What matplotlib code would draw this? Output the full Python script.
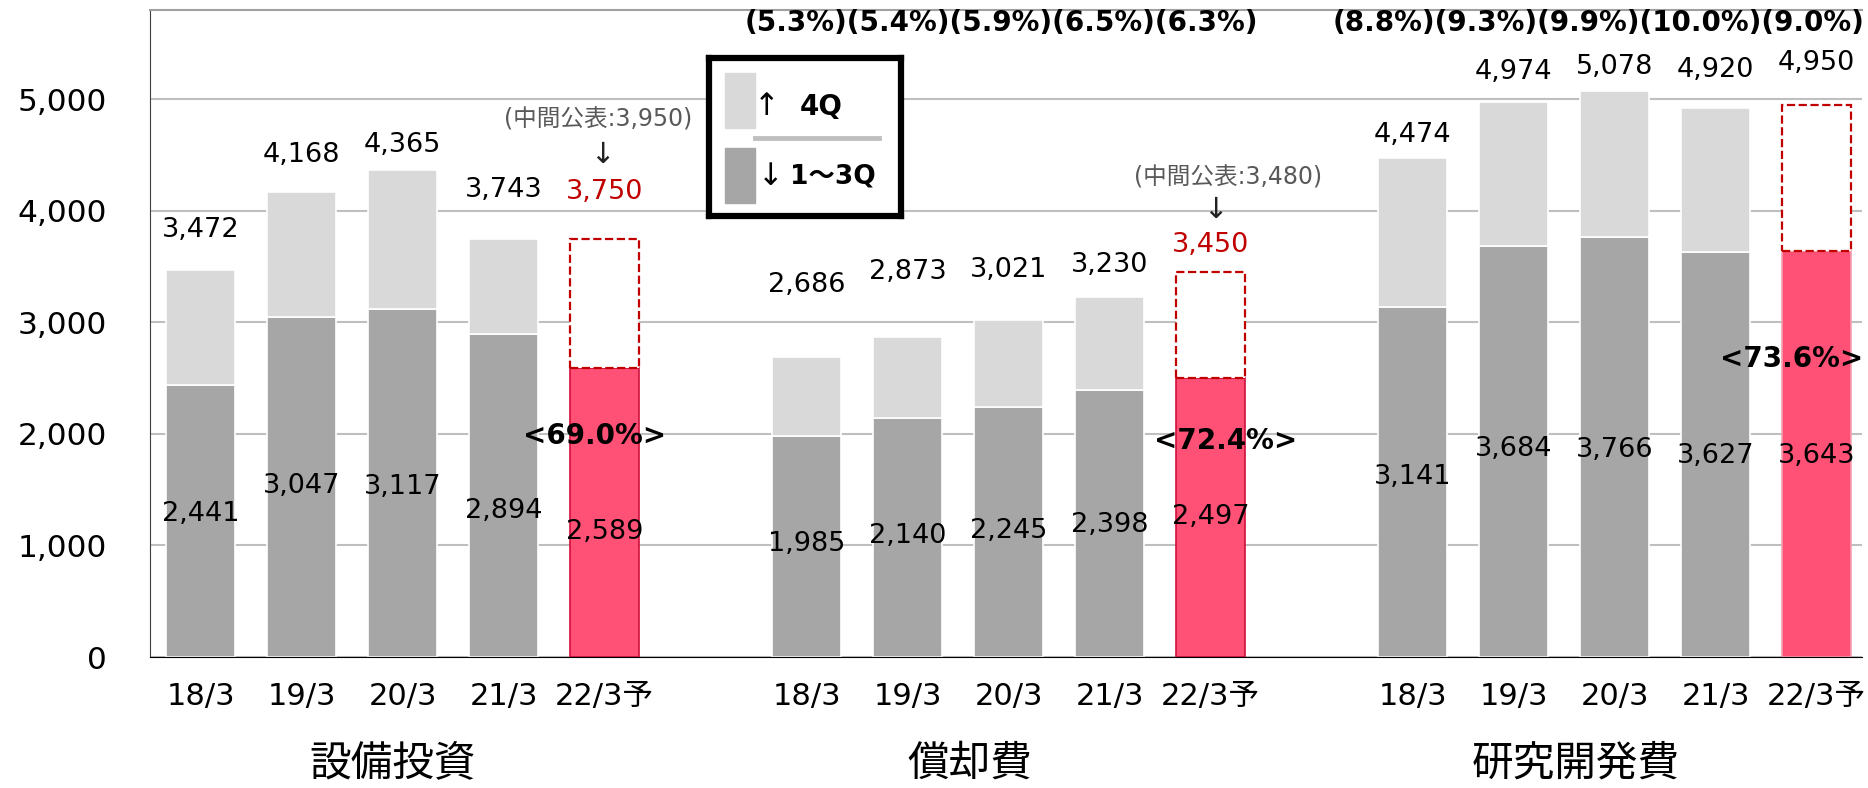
import numpy as np
import matplotlib.pyplot as plt
from matplotlib.patches import Rectangle
from matplotlib.lines import Line2D

plt.rcParams['font.family'] = ['DejaVu Sans', 'Noto Sans CJK JP']

# データ
groups = ['設備投資', '償却費', '研究開発費']
years = ['18/3', '19/3', '20/3', '21/3', '22/3予']
capex_total = [3472, 4168, 4365, 3743, 3750]
capex_q13 = [2441, 3047, 3117, 2894, 2589]
dep_total = [2686, 2873, 3021, 3230, 3450]
dep_q13 = [1985, 2140, 2245, 2398, 2497]
rd_total = [4474, 4974, 5078, 4920, 4950]
rd_q13 = [3141, 3684, 3766, 3627, 3643]
dep_ratio = [5.3, 5.4, 5.9, 6.5, 6.3]
rd_ratio = [8.8, 9.3, 9.9, 10.0, 9.0]
progress = ['<69.0%>', '<72.4%>', '<73.6%>']
interim = ['(中間公表:3,950)', '(中間公表:3,480)', None]

totals = [capex_total, dep_total, rd_total]
q13s = [capex_q13, dep_q13, rd_q13]
ratios = [None, dep_ratio, rd_ratio]

# ラベル位置の調整 (値からのずれ)
tot_off = [[360, 335, 228, 447, 422],
           [653, 574, 444, 288, 247],
           [208, 272, 213, 344, 377]]
in_off = [[60, 7, -37, -140, -176],
          [20, 13, 5, -17, 4],
          [40, 20, -30, -15, -23]]
prog_dx = [-0.1, 0.15, -0.25]
prog_y = [1980, 1934, 2668]
interim_dx = [-0.06, 0.17]
arrow_off = [753, 561]
interim_off = [1067, 847]
ratio_dx = [0, -0.07, -0.16]
grp_dx = [-0.1, -0.38, -0.38]
fc_col = ['#c00000', '#c00000', 'black']
pink_edge = ['#d0103c', '#d0103c', '#f4a0b0']

LIGHT = '#d9d9d9'
DARK = '#a6a6a6'
PINK = '#ff5075'
RED = '#c00000'
W = 0.68

fig = plt.figure(figsize=(18.68, 7.88), dpi=100)
ax = fig.add_axes([0.0803, 0.1662, 0.9165, 0.8211])

xticks = []
xlabels = []
for g in range(3):
    xs = np.arange(5) + 6 * g
    tot = np.array(totals[g])
    q13 = np.array(q13s[g])
    q4 = tot - q13
    ax.bar(xs[:4], q13[:4], W, color=DARK, edgecolor='white', lw=1.2, zorder=2)
    ax.bar(xs[:4], q4[:4], W, bottom=q13[:4], color=LIGHT, edgecolor='white', lw=1.2, zorder=2)
    ax.bar(xs[4], q13[4], W, color=PINK, edgecolor=pink_edge[g], lw=1.2, zorder=2)
    ax.bar(xs[4], q4[4], W, bottom=q13[4], facecolor='white', edgecolor=RED,
           ls='--', lw=1.6, zorder=2)
    xticks += list(xs)
    xlabels += years

    for i in range(5):
        col = fc_col[g] if i == 4 else 'black'
        ax.text(xs[i], tot[i] + tot_off[g][i], f'{tot[i]:,}', ha='center', va='center',
                fontsize=19.5, color=col, zorder=4)
        ax.text(xs[i], q13[i] / 2 + in_off[g][i], f'{q13[i]:,}', ha='center', va='center',
                fontsize=19.5, color='black', zorder=4)

    ax.text(xs[4] + prog_dx[g], prog_y[g], progress[g], ha='center', va='center',
            fontsize=20, fontweight='bold', zorder=5)

    if interim[g]:
        ax.text(xs[4] + interim_dx[g], tot[4] + interim_off[g], interim[g], ha='center',
                va='center', fontsize=17, color='#595959', zorder=4)
        ax.text(xs[4] + interim_dx[g] * 0.3, tot[4] + arrow_off[g], '↓', ha='center',
                va='center', fontsize=21, color='#222222', zorder=4)

    if ratios[g]:
        s = ''.join(f'({r:.1f}%)' for r in ratios[g])
        ax.text(xs[2] + ratio_dx[g], 5685, s, ha='center', va='center',
                fontsize=20, fontweight='bold', zorder=4)

    ax.text(xs[2] + grp_dx[g], -0.164, groups[g], ha='center', va='center', fontsize=30,
            transform=ax.get_xaxis_transform())

ax.set_xlim(-0.5, 16.45)
ax.set_ylim(0, 5800)
ax.set_xticks(xticks)
ax.set_xticklabels(xlabels)
ax.set_yticks(range(0, 6000, 1000))
ax.set_yticklabels([f'{v:,}' for v in range(0, 6000, 1000)])
ax.tick_params(axis='x', length=0, pad=18, labelsize=22)
ax.tick_params(axis='y', length=0, pad=31, labelsize=22.5)
ax.yaxis.grid(True, color='#bfbfbf', lw=1.5)
ax.set_axisbelow(True)
ax.spines['right'].set_visible(False)
ax.spines['top'].set_color('#a0a0a0')
ax.spines['top'].set_linewidth(1.5)
ax.spines['left'].set_color('#404040')
ax.spines['bottom'].set_color('black')

# 凡例
lax = fig.add_axes([0.3796, 0.7259, 0.1028, 0.2005])
lax.set_xlim(0, 1)
lax.set_ylim(0, 1)
lax.set_xticks([])
lax.set_yticks([])
for sp in lax.spines.values():
    sp.set_linewidth(4.5)
    sp.set_color('black')
lax.add_patch(Rectangle((0.083, 0.557), 0.157, 0.348, color=LIGHT))
lax.add_patch(Rectangle((0.083, 0.082), 0.157, 0.348, color=DARK))
lax.add_line(Line2D([0.24, 0.885], [0.494, 0.494], color='#bfbfbf', lw=3.5))
lax.text(0.30, 0.69, '↑', ha='center', va='center', fontsize=22)
lax.text(0.47, 0.69, '4Q', ha='left', va='center', fontsize=20, fontweight='bold')
lax.text(0.318, 0.247, '↓', ha='center', va='center', fontsize=22)
lax.text(0.42, 0.247, '1～3Q', ha='left', va='center', fontsize=19, fontweight='bold')

fig.savefig('out.png', dpi=100)
